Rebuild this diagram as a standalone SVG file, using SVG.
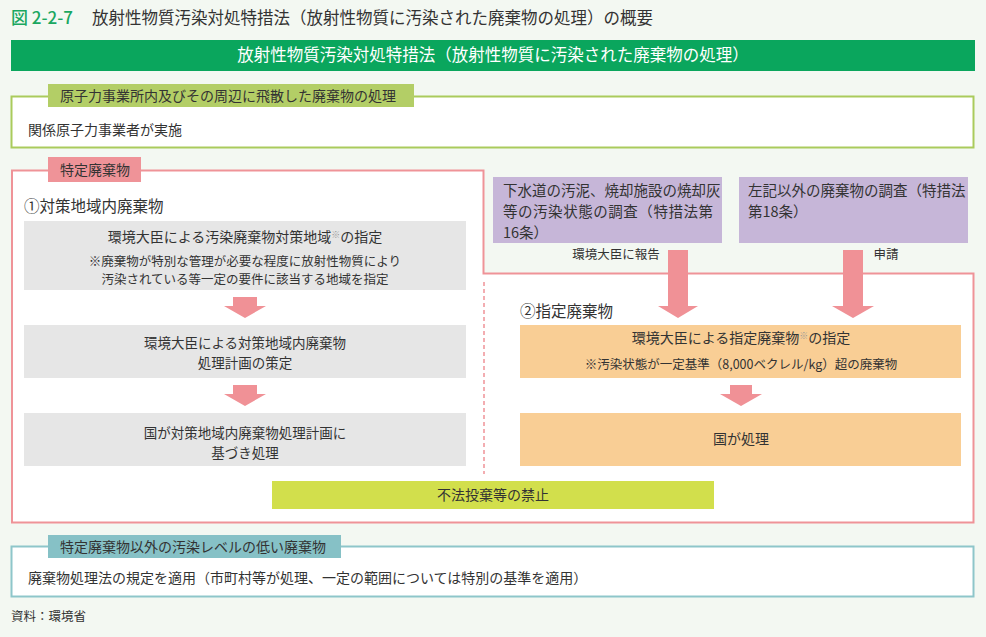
<svg xmlns="http://www.w3.org/2000/svg" width="986" height="637" viewBox="0 0 986 637">
<style>
text{font-family:"Noto Sans CJK JP","Noto Sans",sans-serif;fill:#333;}
.c{text-anchor:middle;}
.t14{font-size:14px;}
.t13{font-size:13.5px;}
.t12{font-size:12.5px;}
.t15{font-size:15.5px;}
.gray{fill:#e6e6e6;}
.orange{fill:#f9ce95;}
.purple{fill:#c6b6d8;}
.arrow{fill:#f09196;}
.sup{font-size:9px;fill:#999;}
</style>
<rect x="0" y="0" width="986" height="637" fill="#f3f8f2"/>
<g id="title">
<text x="11" y="24" style="font-size:17px;fill:#1aa760;font-weight:500">図 2-2-7</text>
<text x="92" y="24" style="font-size:16.5px">放射性物質汚染対処特措法（放射性物質に汚染された廃棄物の処理）の概要</text>
</g>
<g id="header">
<rect x="11" y="40" width="964" height="31" fill="#0aa65d"/>
<text x="493" y="61" class="c" style="font-size:16.5px;fill:#fff">放射性物質汚染対処特措法（放射性物質に汚染された廃棄物の処理）</text>
</g>
<g id="nuclear-site">
<rect x="11.5" y="96.5" width="962" height="51" fill="#fff" stroke="#aacb5c" stroke-width="2"/>
<rect x="48" y="84" width="366" height="23" fill="#b3ce66"/>
<text x="60" y="101" class="t14">原子力事業所内及びその周辺に飛散した廃棄物の処理</text>
<text x="28" y="135" class="t14">関係原子力事業者が実施</text>
</g>
<g id="specified-waste">
<path d="M12,170.5 H483.5 V273.5 H973.5 V522.5 H12 Z" fill="#fff" stroke="#ef9398" stroke-width="2"/>
<rect x="48" y="157" width="93" height="25" fill="#ef9398"/>
<text x="60" y="175" class="t14">特定廃棄物</text>
<line x1="484" y1="282" x2="484" y2="474" stroke="#ef9398" stroke-width="1.5" stroke-dasharray="4,3"/>
</g>
<g id="connectors">
<path class="arrow" d="M233,297 H257 V306 H266 L245,318 L224,306 H233 Z"/>
<path class="arrow" d="M233,385 H257 V394 H266 L245,406 L224,394 H233 Z"/>
<path class="arrow" d="M668,250 H688 V306 H698 L678,318 L658,306 H668 Z"/>
<path class="arrow" d="M843,250 H863 V306 H874 L853,318 L832,306 H843 Z"/>
<path class="arrow" d="M730,385 H752 V394 H762 L741,406 L720,394 H730 Z"/>
</g>
<g id="area-waste-label">
<text x="24" y="212" class="t15">①対策地域内廃棄物</text>
</g>
<g id="area-designation">
<rect x="24" y="221" width="442" height="69" class="gray"/>
<text x="245" y="242" class="c t14">環境大臣による汚染廃棄物対策地域<tspan class="sup" dy="-4">※</tspan><tspan dy="4">の指定</tspan></text>
<text x="245" y="266" class="c t12">※廃棄物が特別な管理が必要な程度に放射性物質により</text>
<text x="245" y="284" class="c t12">汚染されている等一定の要件に該当する地域を指定</text>
</g>
<g id="area-plan">
<rect x="24" y="325" width="442" height="53" class="gray"/>
<text x="245" y="348" class="c t13">環境大臣による対策地域内廃棄物</text>
<text x="245" y="367.5" class="c t13">処理計画の策定</text>
</g>
<g id="area-disposal">
<rect x="24" y="413" width="442" height="53" class="gray"/>
<text x="245" y="438" class="c t13">国が対策地域内廃棄物処理計画に</text>
<text x="245" y="457.5" class="c t13">基づき処理</text>
</g>
<g id="survey-16">
<rect x="493" y="177" width="229" height="66" class="purple"/>
<text x="503" y="196" style="font-size:14.5px">下水道の汚泥、焼却施設の焼却灰</text>
<text x="503" y="217" style="font-size:14.5px" textLength="210">等の汚染状態の調査（特措法第</text>
<text x="503" y="238" style="font-size:14.5px">16条）</text>
<text x="616" y="259" class="c t12">環境大臣に報告</text>
</g>
<g id="survey-18">
<rect x="739" y="177" width="229" height="66" class="purple"/>
<text x="748" y="196" style="font-size:14.5px">左記以外の廃棄物の調査（特措法</text>
<text x="748" y="217" style="font-size:14.5px">第18条）</text>
<text x="886" y="259" class="c t12">申請</text>
</g>
<g id="designated-waste-label">
<text x="520" y="317" class="t15">②指定廃棄物</text>
</g>
<g id="designation">
<rect x="520" y="325" width="441" height="53" class="orange"/>
<text x="741" y="343" class="c t14">環境大臣による指定廃棄物<tspan class="sup" dy="-4">※</tspan><tspan dy="4">の指定</tspan></text>
<text x="741" y="369" class="c t12">※汚染状態が一定基準（8,000ベクレル/kg）超の廃棄物</text>
</g>
<g id="state-disposal">
<rect x="520" y="413" width="441" height="53" class="orange"/>
<text x="741" y="444" class="c t14">国が処理</text>
</g>
<g id="dumping-ban">
<rect x="272" y="481" width="442" height="28" fill="#d2df4c"/>
<text x="493" y="500" class="c t14">不法投棄等の禁止</text>
</g>
<g id="low-level">
<rect x="11.5" y="546.5" width="962" height="50" fill="#fff" stroke="#8ec6ca" stroke-width="2"/>
<rect x="48" y="535" width="293" height="23" fill="#86c1c6"/>
<text x="60" y="552" class="t14">特定廃棄物以外の汚染レベルの低い廃棄物</text>
<text x="28" y="583" class="t14">廃棄物処理法の規定を適用（市町村等が処理、一定の範囲については特別の基準を適用）</text>
</g>
<g id="source">
<text x="11" y="621" class="t12">資料：環境省</text>
</g>
</svg>
